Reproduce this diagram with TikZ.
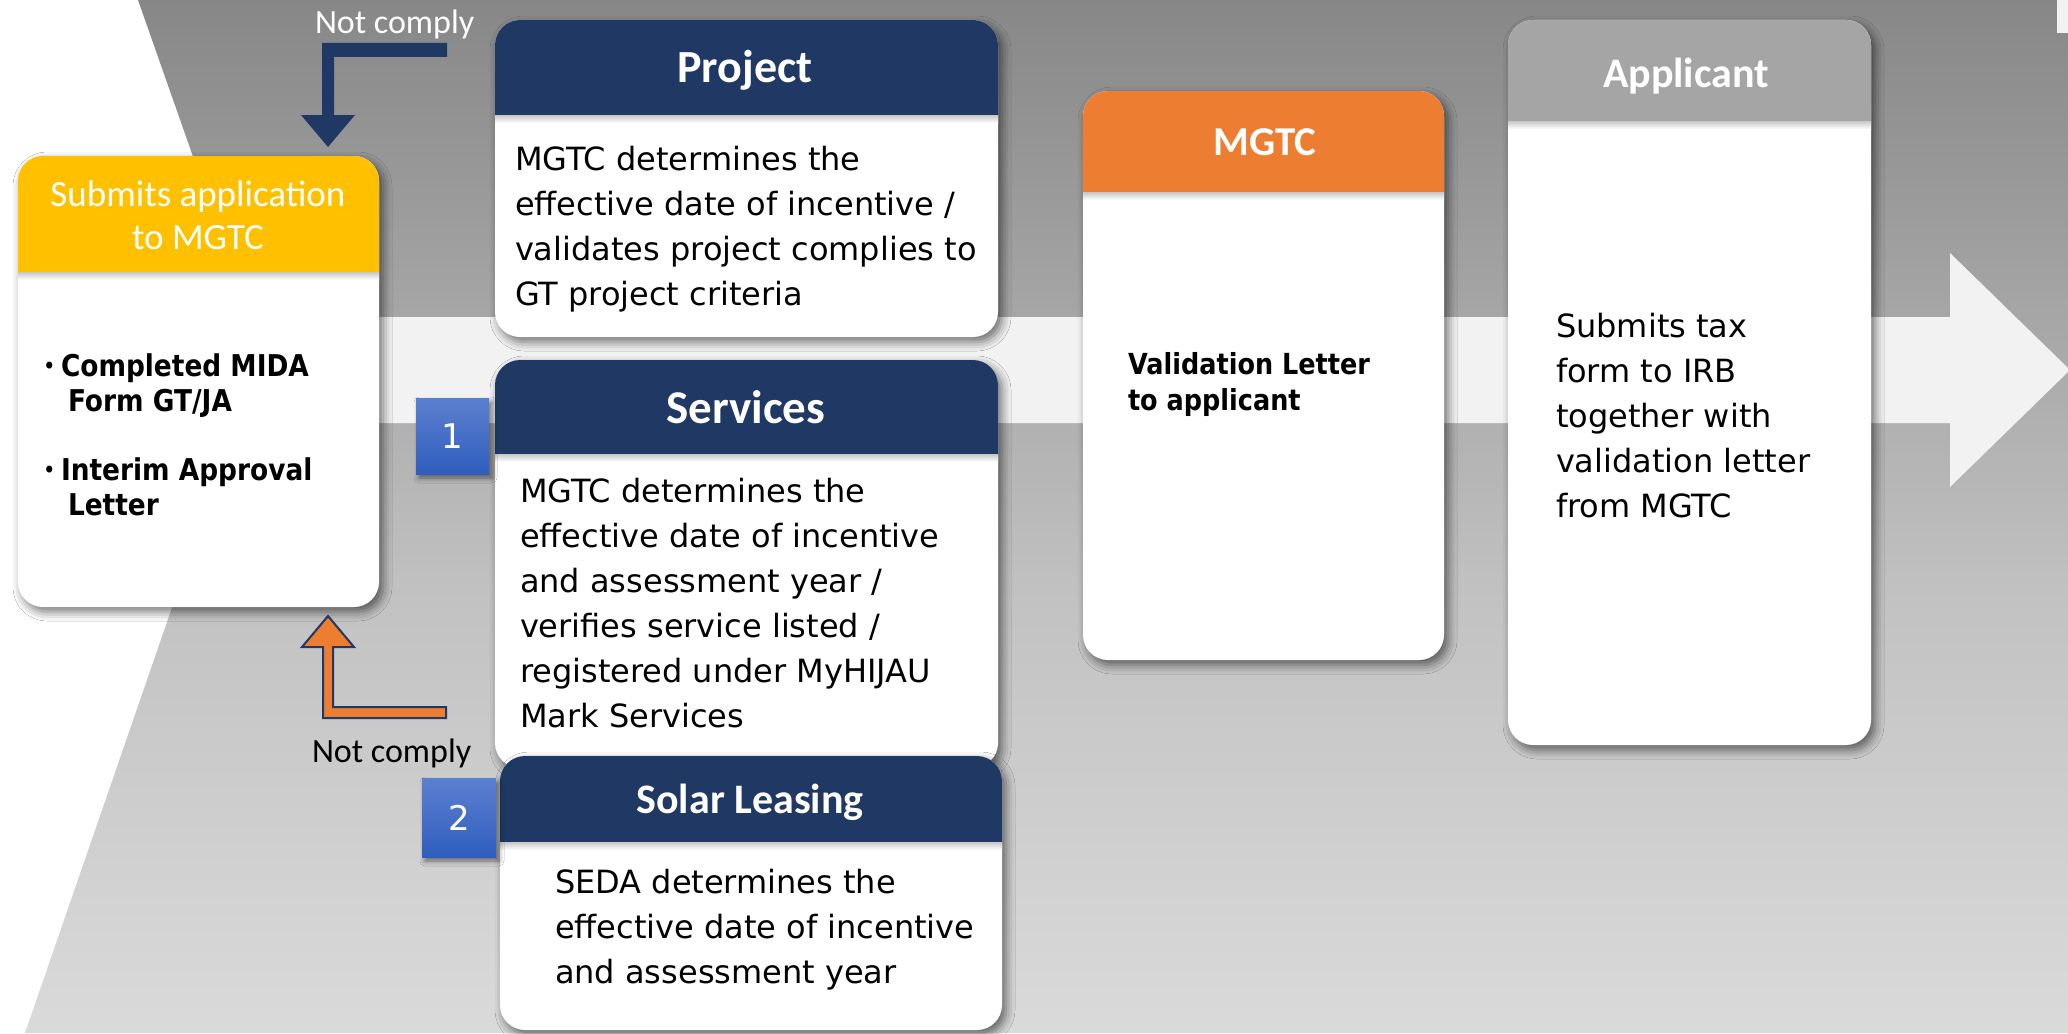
\documentclass[tikz,border=0pt]{standalone}
\usepackage{fontspec}
\setmainfont{DejaVu Sans}
\newfontfamily\titlefont{Carlito}
\newfontfamily\tightfont[FakeStretch=0.88]{DejaVu Sans}
\usetikzlibrary{shadows.blur}

\definecolor{cnavy}{RGB}{32,56,100}
\definecolor{corange}{RGB}{237,125,49}
\definecolor{cgold}{RGB}{255,192,0}
\definecolor{cgreyh}{RGB}{165,165,165}
\definecolor{cband}{RGB}{242,242,242}
\definecolor{bghi}{RGB}{135,135,135}
\definecolor{bgmid}{RGB}{194,194,194}
\definecolor{bglo}{RGB}{218,218,218}
\definecolor{badgetop}{RGB}{92,128,208}
\definecolor{badgebot}{RGB}{47,94,190}

% grey backdrop: dark at the top, light at the bottom
\pgfdeclareverticalshading{bggrey}{100bp}{color(0bp)=(bglo); color(25bp)=(bglo); color(46bp)=(bgmid); color(75bp)=(bghi); color(100bp)=(bghi)}

% card: white rounded body, coloured header strip, soft header shadow
% #1 name, #2 x1, #3 y1, #4 x2, #5 y2, #6 header bottom, #7 header colour
\newcommand\infocard[7]{%
  \node[cardbox, minimum width={#4-#2}, minimum height={#5-#3}] (#1) at ({(#2+#4)/2},{(#3+#5)/2}) {};
  \begin{scope}
    \clip ({#2-5},{#3-5}) rectangle ({#4+5},#6);
    \fill[#7, rounded corners=25pt] (#2,#3) rectangle (#4,#5);
  \end{scope}
  \shade[top color=black!22, bottom color=white] (#2,#6) rectangle (#4,{#6+8});
}
% small bullet mark for the document list
\newcommand\docbullet{\makebox[18pt][l]{\raisebox{2pt}{\mdseries\fontsize{24pt}{24pt}\selectfont\textbullet}}}

\begin{document}
\begin{tikzpicture}[x=1pt,y=-1pt,
  cardbox/.style={rectangle, rounded corners=25pt, fill=white, draw=none,
    inner sep=0pt, outer sep=0pt,
    blur shadow={shadow xshift=4pt, shadow yshift=-5pt, shadow blur radius=9pt, shadow opacity=55}},
  badge/.style={rectangle, inner sep=0pt, top color=badgetop, bottom color=badgebot,
    text=white, font=\fontsize{34pt}{34pt}\selectfont,
    blur shadow={shadow xshift=3pt, shadow yshift=-4pt, shadow blur radius=5pt, shadow opacity=50}},
  txt/.style={anchor=base west, inner sep=0pt, outer sep=0pt},
  body/.style={txt, font=\fontsize{32pt}{45pt}\selectfont},
  title/.style={anchor=base, inner sep=0pt, outer sep=0pt, text=white},
]
\useasboundingbox (0,0) rectangle (2068,1033);
\fill[white] (0,0) rectangle (2068,1033);

% chevron backdrop with notched left side
\shade[shading=bggrey] (138,0) -- (2068,0) -- (2068,1033) -- (25,1033) -- (261,350) -- cycle;

% light process arrow running through the middle
\fill[cband] (250,317) -- (1950,317) -- (1950,253) -- (2070,370) -- (1950,487) -- (1950,423) -- (250,423) -- cycle;
\fill[cband] (2057,0) rectangle (2068,33);

% cards
\infocard{lbox}{18}{156}{379}{607}{272}{cgold}
\infocard{pbox}{495}{20}{998}{337}{115}{cnavy}
\infocard{sbox}{495}{360}{998}{768}{454}{cnavy}
\infocard{slbox}{500}{756}{1002}{1030}{842}{cnavy}
\infocard{mbox}{1083}{91}{1444}{660}{192}{corange}
\infocard{abox}{1508}{20}{1871}{745}{121}{cgreyh}

% card titles
\node[title, font=\titlefont\fontsize{37pt}{43pt}\selectfont] (lhead) at (198,206)
  {\parbox[t]{340pt}{\centering Submits application\\to MGTC}};
\node[title, font=\titlefont\bfseries\fontsize{46pt}{46pt}\selectfont] (phead) at (745,82) {Project};
\node[title, font=\titlefont\bfseries\fontsize{47pt}{47pt}\selectfont] (shead) at (746,423) {Services};
\node[title, font=\titlefont\bfseries\fontsize{42pt}{42pt}\selectfont] (slhead) at (750,813) {Solar Leasing};
\node[title, font=\titlefont\bfseries\fontsize{41pt}{41pt}\selectfont] (mhead) at (1265,155) {MGTC};
\node[title, font=\titlefont\bfseries\fontsize{42pt}{42pt}\selectfont] (ahead) at (1686,87) {Applicant};

% card contents
\node[txt, font=\tightfont\bfseries\fontsize{30pt}{35pt}\selectfont] (ldocs) at (43,376)
  {\parbox[t]{330pt}{\docbullet Completed MIDA\\
    \hspace*{25pt}Form GT/JA\\[34pt]
    \docbullet Interim Approval\\
    \hspace*{25pt}Letter}};
\node[body] (ptext) at (515,170)
  {\parbox[t]{480pt}{MGTC determines the\\effective date of incentive /\\validates project complies to\\GT project criteria}};
\node[body] (stext) at (520,502)
  {\parbox[t]{470pt}{MGTC determines the\\effective date of incentive\\and assessment year /\\verifies service listed /\\registered under MyHIJAU\\Mark Services}};
\node[body] (sltext) at (555,893)
  {\parbox[t]{440pt}{SEDA determines the\\effective date of incentive\\and assessment year}};
\node[txt, font=\tightfont\bfseries\fontsize{29pt}{36pt}\selectfont] (mtext) at (1128,374)
  {\parbox[t]{300pt}{Validation Letter\\to applicant}};
\node[body] (atext) at (1556,337)
  {\parbox[t]{300pt}{Submits tax\\form to IRB\\together with\\validation letter\\from MGTC}};

% numbered badges
\node[badge, minimum width=73pt, minimum height=76pt] (badge1) at (452.5,436) {1};
\node[badge, minimum width=74pt, minimum height=79pt] (badge2) at (459,817.5) {2};

% return arrows for non-compliance
\fill[cnavy] (447,43) -- (322,43) -- (322,115) -- (301,115) -- (328,147) -- (355,115)
  -- (334,115) -- (334,57) -- (447,57) -- cycle;
\filldraw[fill=corange, draw=cnavy, line width=2pt, line join=miter]
  (328,616) -- (354,647) -- (333,647) -- (333,707) -- (446,707) -- (446,718)
  -- (323,718) -- (323,647) -- (302,647) -- cycle;

\node[txt, text=white, font=\titlefont\fontsize{34pt}{34pt}\selectfont] (nctop) at (315,34) {Not comply};
\node[txt, text=black, font=\titlefont\fontsize{34pt}{34pt}\selectfont] (ncbot) at (312,762) {Not comply};
\end{tikzpicture}
\end{document}
